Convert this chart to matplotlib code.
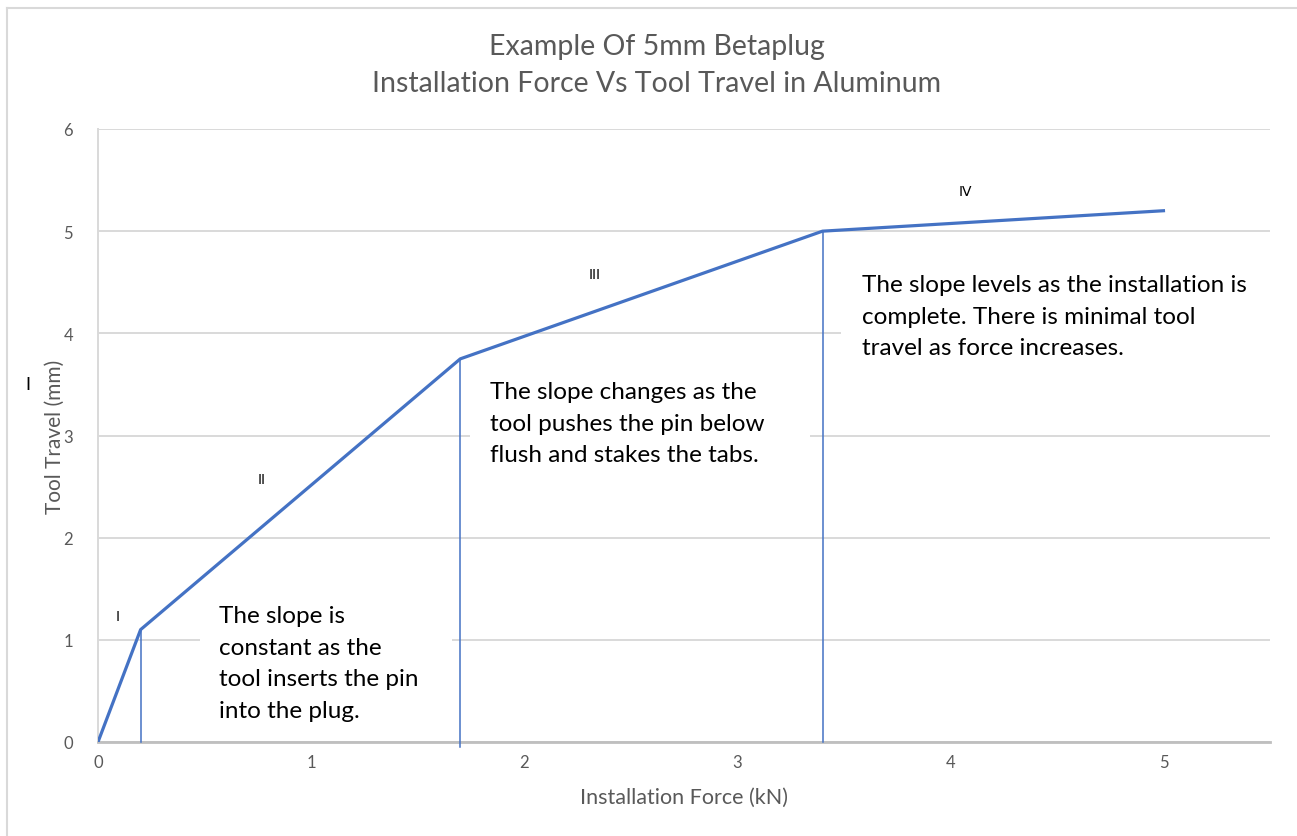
import matplotlib.pyplot as plt
from matplotlib.patches import Rectangle
from matplotlib.lines import Line2D

# force (kN) vs tool travel (mm), corner points
force = [0.0, 0.2, 1.7, 3.4, 5.0]
travel = [0.0, 1.1, 3.75, 5.0, 5.2]

# stage boundaries (vertical markers)
stage_x = [0.2, 1.7, 3.4]
stage_top = [1.1, 3.75, 5.0]
stage_bottom = [0.0, -0.05, 0.0]

stage_names = ["I", "II", "III", "IV"]
stage_label_x = [0.09, 0.77, 2.33, 4.07]
stage_label_y = [1.23, 2.57, 4.58, 5.39]

notes = [
    "The slope is\nconstant as the\ntool inserts the pin\ninto the plug.",
    "The slope changes as the\ntool pushes the pin below\nflush and stakes the tabs.",
    "The slope levels as the installation is\ncomplete. There is minimal tool\ntravel as force increases.",
]
note_x = [0.568, 1.84, 3.587]
note_y = [1.34, 3.53, 4.58]
# white boxes behind the notes (x0, x1, y0, y1)
note_box = [(0.479, 1.662, 0.03, 1.5), (1.746, 3.343, 2.38, 3.70), (3.488, 5.6, 3.45, 4.77)]

x_ticks = [0, 1, 2, 3, 4, 5]
y_ticks = [0, 1, 2, 3, 4, 5, 6]

blue = "#4472C4"
grey_txt = "#595959"

plt.rcParams['font.family'] = ['Lato', 'DejaVu Sans']

fig = plt.figure(figsize=(12.97, 8.37), dpi=100)
ax = fig.add_axes([98 / 1297, 1 - 743 / 837, (1270 - 98) / 1297, (743 - 130) / 837])

ax.set_xlim(0, 5.5)
ax.set_ylim(0, 6)
ax.set_xticks(x_ticks)
ax.set_yticks(y_ticks)
ax.tick_params(length=0, labelsize=12, labelcolor=grey_txt)
ax.tick_params(axis='x', pad=9)
ax.tick_params(axis='y', pad=18)
ax.grid(axis='y', color='#d9d9d9', linewidth=1.4)
ax.set_axisbelow(True)
for side in ['top', 'right']:
    ax.spines[side].set_visible(False)
ax.spines['left'].set_color('#d9d9d9')
ax.spines['left'].set_linewidth(1.4)
ax.spines['bottom'].set_color('#bfbfbf')
ax.spines['bottom'].set_linewidth(2)

for (x0, x1, y0, y1) in note_box:
    ax.add_patch(Rectangle((x0, y0), x1 - x0, y1 - y0, facecolor='white',
                           edgecolor='none', zorder=1.5, clip_on=False))

ax.plot(force, travel, color=blue, linewidth=2.3, zorder=4)
for x, top, bot in zip(stage_x, stage_top, stage_bottom):
    ax.plot([x, x], [bot, top], color=blue, linewidth=1.1, zorder=3, clip_on=False)

for name, x, y in zip(stage_names, stage_label_x, stage_label_y):
    ax.text(x, y, name, fontsize=10, ha='center', va='center', color='black',
            family=['DejaVu Sans'])

for txt, x, y in zip(notes, note_x, note_y):
    ax.text(x, y, txt, fontsize=17.5, ha='left', va='top', color='black',
            linespacing=1.62, zorder=5)

ax.set_xlabel("Installation Force (kN)", fontsize=15.5, color=grey_txt, labelpad=12)
ax.set_ylabel("Tool Travel (mm)", fontsize=15, color=grey_txt)
ax.yaxis.set_label_coords(-0.028, 0.5)

fig.text(657 / 1297, 1 - 47 / 837, "Example Of 5mm Betaplug", fontsize=20.5,
         color=grey_txt, ha='center', va='center')
fig.text(657 / 1297, 1 - 84 / 837, "Installation Force Vs Tool Travel in Aluminum",
         fontsize=20.5, color=grey_txt, ha='center', va='center')
fig.text(28 / 1297, 1 - 385 / 837, "I", fontsize=13, color='black', ha='center', va='center')

# chart-area border (top and left edges visible)
fig.add_artist(Line2D([7 / 1297, 7 / 1297], [0, 1 - 9 / 837], color='#d9d9d9', linewidth=1.5))
fig.add_artist(Line2D([7 / 1297, 1], [1 - 9 / 837, 1 - 9 / 837], color='#d9d9d9', linewidth=1.5))

fig.savefig("out.png", dpi=100)
